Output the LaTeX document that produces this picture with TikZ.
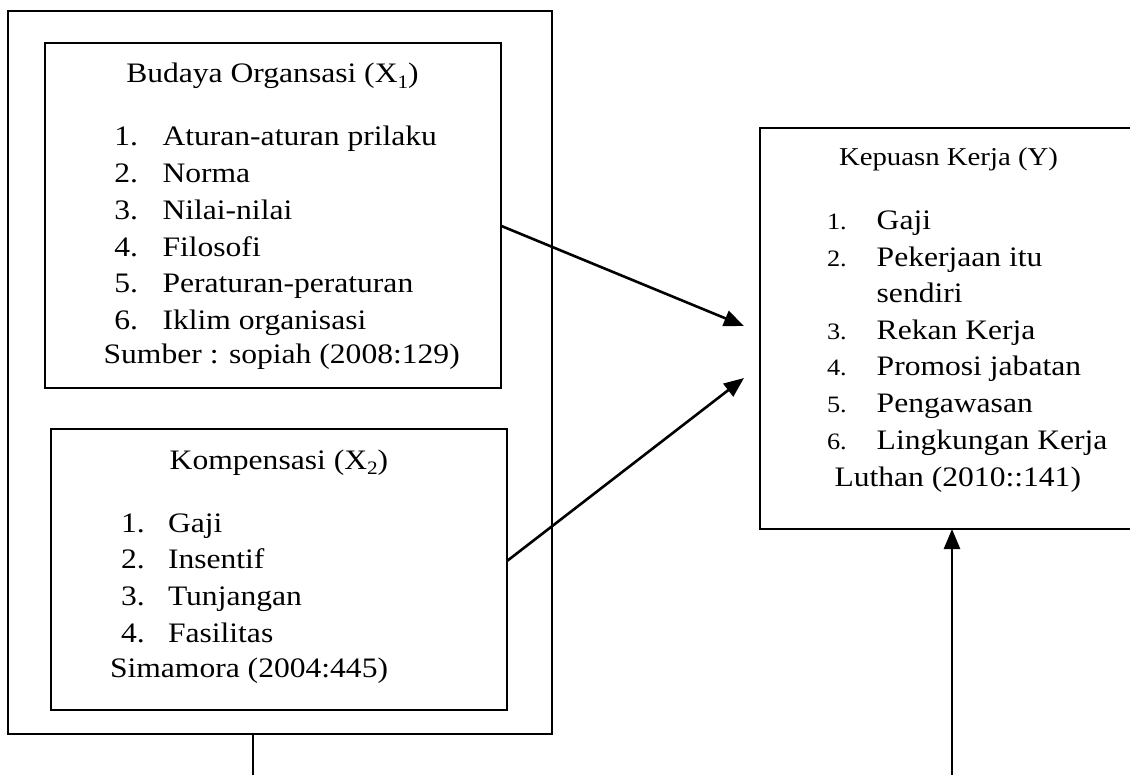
\documentclass[tikz,border=0pt]{standalone}
\usepackage{fontspec}
\setmainfont[FakeStretch=1.12]{Liberation Serif}
\usetikzlibrary{arrows.meta,calc}
\newcommand\mysub[1]{\raisebox{-0.18em}{\fontsize{19}{19}\selectfont #1}}
\tikzset{
  box/.style={draw, line width=1.6pt, rectangle, inner sep=0pt, outer sep=0pt},
  txt/.style={inner sep=0pt, outer sep=0pt, anchor=base west, font=\fontsize{28.2}{34}\selectfont},
  ttl/.style={inner sep=0pt, outer sep=0pt, anchor=base, font=\fontsize{28.2}{34}\selectfont},
  ttlsmall/.style={inner sep=0pt, outer sep=0pt, anchor=base, font=\fontsize{25.7}{31}\selectfont},
  numsmall/.style={inner sep=0pt, outer sep=0pt, anchor=base west, font=\fontsize{23.5}{28}\selectfont},
  arr/.style={line width=2.6pt, -{Triangle[length=20pt,width=16pt]}},
  plain/.style={line width=1.8pt}
}
\begin{document}
\begin{tikzpicture}[x=1pt,y=-1pt]
\useasboundingbox (0,0) rectangle (1130,775);
\clip (0,0) rectangle (1130,775);
% boxes
\node[box, minimum width=544pt, minimum height=723pt] (outer) at (280,372.5) {};
\node[box, minimum width=455.7pt, minimum height=345pt] (b1) at (272.85,215.5) {};
\node[box, minimum width=456pt, minimum height=281pt] (b2) at (279,569.5) {};
\node[box, minimum width=384pt, minimum height=401pt] (Y) at (952,328.5) {};
% box 1 text
\node[ttl] (b1t) at (272.5,83) {Budaya Organsasi (X\mysub{1})};
\foreach \t [count=\k] in {Aturan-aturan prilaku, Norma, Nilai-nilai, Filosofi, Peraturan-peraturan, Iklim organisasi}{
  \node[txt] (b1n\k) at (114.3,{146+(\k-1)*36.7}) {\k.};
  \node[txt] (b1i\k) at (162.5,{146+(\k-1)*36.7}) {\t};
}
\node[txt] (b1s) at (103.6,363.5) {Sumber : sopiah (2008:129)};
% box 2 text
\node[ttl] (b2t) at (279,469) {Kompensasi (X\mysub{2})};
\foreach \t [count=\k] in {Gaji, Insentif, Tunjangan, Fasilitas}{
  \node[txt] (b2n\k) at (121,{532+(\k-1)*36.7}) {\k.};
  \node[txt] (b2i\k) at (168,{532+(\k-1)*36.7}) {\t};
}
\node[txt] (b2s) at (110,677.7) {Simamora (2004:445)};
% Y box text
\node[ttlsmall] (Yt) at (948.5,166) {Kepuasn Kerja (Y)};
\node[numsmall] (Yn1) at (827,230) {1.};
\node[txt] (Yi1) at (876.7,230) {Gaji};
\node[numsmall] (Yn2) at (827,266.5) {2.};
\node[txt] (Yi2) at (876.7,266.5) {Pekerjaan itu};
\node[txt] (Yi2b) at (876.7,303) {sendiri};
\node[numsmall] (Yn3) at (827,339.5) {3.};
\node[txt] (Yi3) at (876.7,339.5) {Rekan Kerja};
\node[numsmall] (Yn4) at (827,376) {4.};
\node[txt] (Yi4) at (876.7,376) {Promosi jabatan};
\node[numsmall] (Yn5) at (827,412.5) {5.};
\node[txt] (Yi5) at (876.7,412.5) {Pengawasan};
\node[numsmall] (Yn6) at (827,449.5) {6.};
\node[txt] (Yi6) at (876.7,449.5) {Lingkungan Kerja};
\node[txt] (Ys) at (834.5,486) {Luthan (2010::141)};
% connectors
\coordinate (tip1) at (744,326);
\coordinate (tip2) at (744,378);
\coordinate (bot) at (952,775);
\coordinate (stub) at (253,775);
\draw[arr] ($(b1.east)+(0,10.2)$) -- (tip1);
\draw[arr] ($(b2.east)+(0,-8.5)$) -- (tip2);
\draw[arr] (bot) -- (Y.south);
\draw[plain] ($(outer.south)+(-27,0)$) -- (stub);
\end{tikzpicture}
\end{document}
